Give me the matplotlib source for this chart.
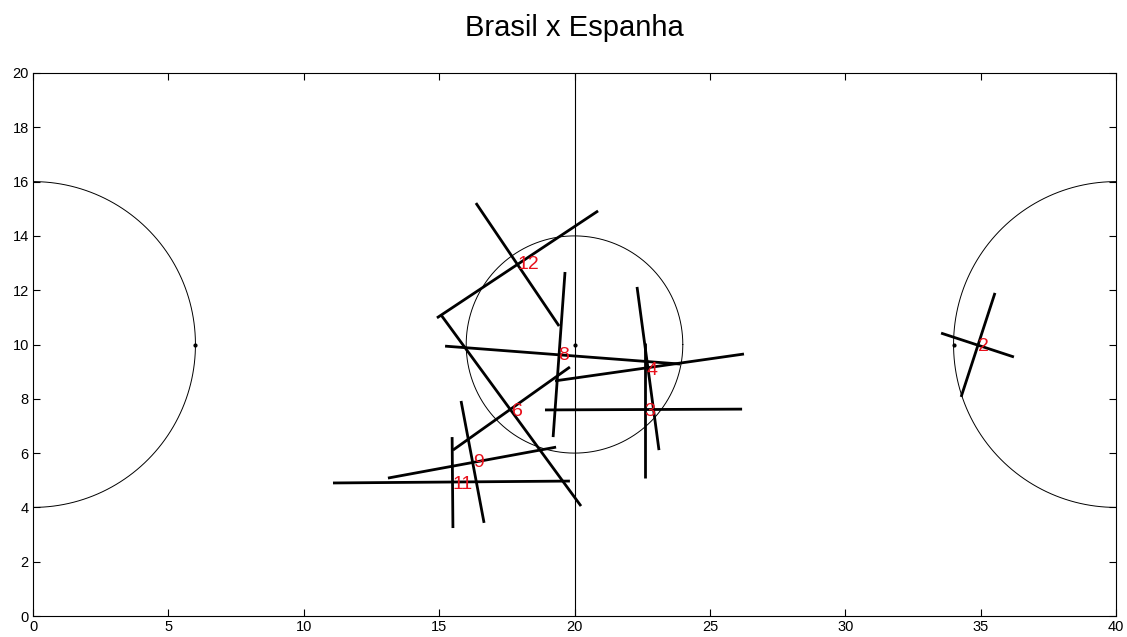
import numpy as np
import matplotlib
matplotlib.use("Agg")
import matplotlib.pyplot as plt
from matplotlib import font_manager

# ---------------- data ----------------
title = "Brasil x Espanha"
players = ["12", "8", "4", "3", "6", "9", "11", "2"]
label_x = [18.28, 19.58, 22.86, 22.79, 17.88, 16.44, 15.85, 35.09]
label_y = [12.93, 9.61, 9.06, 7.55, 7.55, 5.64, 4.86, 9.94]

# first line of each player (x0, y0, x1, y1)
line1_x0 = [16.36, 19.65, 22.31, 22.60, 15.07, 13.11, 11.08, 34.28]
line1_y0 = [15.21, 12.67, 12.12, 10.06, 11.09, 5.08, 4.90, 8.07]
line1_x1 = [19.43, 19.21, 23.12, 22.60, 20.24, 19.32, 19.83, 35.53]
line1_y1 = [10.68, 6.59, 6.11, 5.08, 4.05, 6.22, 4.97, 11.90]
# second line of each player
line2_x0 = [14.92, 15.22, 19.28, 18.91, 15.51, 15.81, 15.48, 33.54]
line2_y0 = [10.98, 9.94, 8.66, 7.59, 6.11, 7.92, 6.59, 10.42]
line2_x1 = [20.87, 23.90, 26.26, 26.19, 19.83, 16.66, 15.51, 36.23]
line2_y1 = [14.92, 9.28, 9.65, 7.62, 9.17, 3.43, 3.24, 9.54]

# field
field_len = 40
field_wid = 20
area_radius = 6
center_radius = 4
spot_x = [6, 20, 34]
spot_y = [10, 10, 10]
x_ticks = [0, 5, 10, 15, 20, 25, 30, 35, 40]
y_ticks = [0, 2, 4, 6, 8, 10, 12, 14, 16, 18, 20]

# ---------------- fonts ----------------
avail = {f.name for f in font_manager.fontManager.ttflist}
tick_font = "Liberation Sans Narrow" if "Liberation Sans Narrow" in avail else "Liberation Sans"
plt.rcParams["font.family"] = ["Liberation Sans", "DejaVu Sans"]

fig = plt.figure(figsize=(11.27, 6.37), dpi=100)
ax = fig.add_axes([33 / 1127, 21 / 637, (1116 - 33) / 1127, (616 - 73) / 637])

# field lines
t = np.linspace(-np.pi / 2, np.pi / 2, 200)
ax.plot(area_radius * np.cos(t), field_wid / 2 + area_radius * np.sin(t), color="black", lw=0.7)
ax.plot(field_len - area_radius * np.cos(t), field_wid / 2 + area_radius * np.sin(t), color="black", lw=0.7)
tc = np.linspace(0, 2 * np.pi, 300)
ax.plot(field_len / 2 + center_radius * np.cos(tc), field_wid / 2 + center_radius * np.sin(tc),
        color="black", lw=0.7)
ax.plot([field_len / 2, field_len / 2], [0, field_wid], color="black", lw=0.8)
ax.plot(spot_x, spot_y, linestyle="none", marker="o", ms=2, color="black")

# player lines
for i in range(len(players)):
    ax.plot([line1_x0[i], line1_x1[i]], [line1_y0[i], line1_y1[i]], color="black", lw=2.0,
            solid_capstyle="butt")
    ax.plot([line2_x0[i], line2_x1[i]], [line2_y0[i], line2_y1[i]], color="black", lw=2.0,
            solid_capstyle="butt")
    ax.text(label_x[i], label_y[i], players[i], color="#e8101c", fontsize=14,
            ha="center", va="center")

ax.set_xlim(0, field_len)
ax.set_ylim(0, field_wid)
ax.set_xticks(x_ticks)
ax.set_yticks(y_ticks)
ax.tick_params(direction="in", length=5, width=0.8, top=True, right=True,
               labelsize=10.5, pad=3)
for lab in ax.get_xticklabels() + ax.get_yticklabels():
    lab.set_family([tick_font, "DejaVu Sans"])
for s in ax.spines.values():
    s.set_linewidth(0.8)

ax.set_title(title, fontsize=21, pad=27)

fig.savefig("out.png", dpi=100)
